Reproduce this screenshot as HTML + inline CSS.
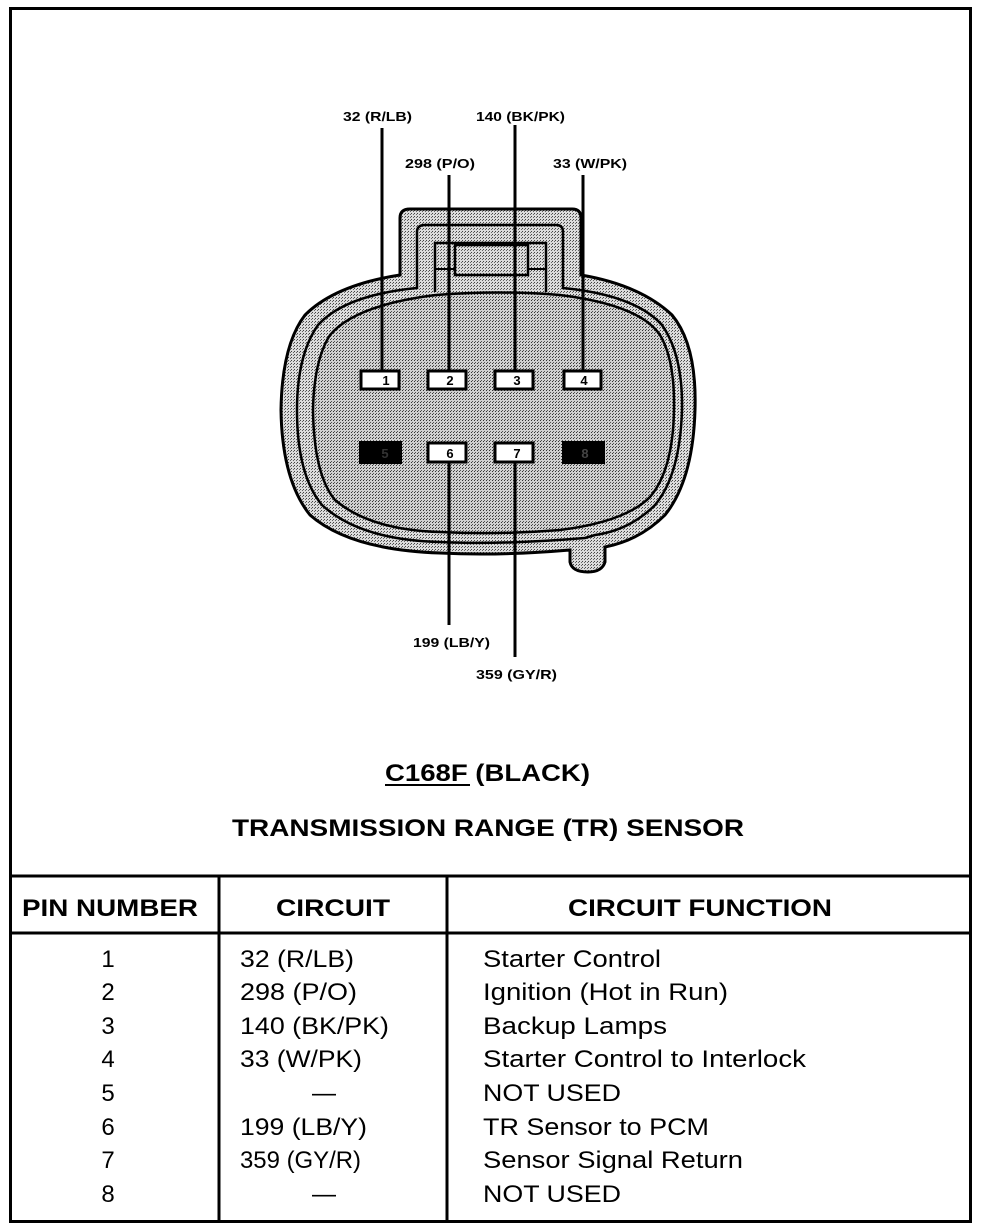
<!DOCTYPE html>
<html><head><style>
html,body{margin:0;padding:0;background:#fff;}
svg{display:block;}
text{font-family:"Liberation Sans",Arial,sans-serif;fill:#000;}
.lbl{font-size:13px;font-weight:bold;}
.h{font-size:24px;font-weight:bold;}
.t{font-size:24px;}
.pn{font-size:13px;font-weight:bold;}
</style></head><body>
<svg width="992" height="1230" viewBox="0 0 992 1230" xmlns="http://www.w3.org/2000/svg">
<defs>
<pattern id="dots" width="3" height="3" patternUnits="userSpaceOnUse">
<rect width="3" height="3" fill="#dcdcdc"/><rect width="1" height="1" fill="#444"/><rect x="2" y="1" width="1" height="1" fill="#666"/>
</pattern>
<pattern id="dots2" width="3" height="3" patternUnits="userSpaceOnUse">
<rect width="3" height="3" fill="#d0d0d0"/><rect width="1" height="1" fill="#333"/><rect x="1" y="2" width="1" height="1" fill="#555"/>
</pattern>
</defs>
<rect x="10.5" y="8.5" width="960" height="1213" fill="none" stroke="#000" stroke-width="3"/>

<path d="M400 218 Q400 209 410 209 L572 209 Q581 209 581 218 L581 275 Q640 285 672 315 Q697 345 695 410 Q693 480 665 515 Q640 540 605 547 L605 562 Q602 572 588 572 Q572 572 570 562 L570 550 Q500 556 440 553 Q350 550 310 515 Q282 480 281 410 Q282 345 305 315 Q335 285 400 275 Z" fill="url(#dots)" stroke="#000" stroke-width="3"/>
<path d="M417 232 Q417 225 425 225 L556 225 Q563 225 563 232 L563 288 Q635 295 662 325 Q683 355 682 410 Q680 475 655 505 Q630 530 595 535 L585 538 Q500 545 440 542 Q360 540 322 505 Q297 475 297 410 Q297 355 318 325 Q345 295 417 288 Z" fill="url(#dots)" stroke="#000" stroke-width="2.5"/>
<path d="M436 295 Q500 290 560 295 Q640 305 660 335 Q675 360 674 410 Q673 470 650 497 Q625 522 560 530 Q500 535 440 532 Q370 530 335 500 Q314 475 313 410 Q314 360 330 335 Q355 305 436 295 Z" fill="url(#dots2)" stroke="#000" stroke-width="2.5"/>
<path d="M435 292 L435 243 L546 243 L546 292" fill="none" stroke="#000" stroke-width="2.5"/>
<rect x="455" y="245" width="73" height="30" fill="none" stroke="#000" stroke-width="2.5"/>
<line x1="435" y1="269" x2="455" y2="269" stroke="#000" stroke-width="2"/>
<line x1="528" y1="269" x2="546" y2="269" stroke="#000" stroke-width="2"/>

<g stroke="#000" stroke-width="3">
<line x1="382" y1="128" x2="382" y2="371"/>
<line x1="449" y1="175" x2="449" y2="371"/>
<line x1="515" y1="125" x2="515" y2="371"/>
<line x1="583" y1="175" x2="583" y2="371"/>
<line x1="449" y1="462" x2="449" y2="625"/>
<line x1="515" y1="462" x2="515" y2="657"/>
</g>

<g stroke="#000" stroke-width="3" fill="#fff">
<rect x="361" y="371" width="38" height="18"/>
<rect x="428" y="371" width="38" height="18"/>
<rect x="495" y="371" width="38" height="18"/>
<rect x="564" y="371" width="37" height="18"/>
<rect x="428" y="443" width="38" height="19"/>
<rect x="495" y="443" width="38" height="19"/>
</g>
<rect x="359" y="441" width="43" height="23" fill="#000"/>
<rect x="562" y="441" width="43" height="23" fill="#000"/>
<g class="pn" text-anchor="middle">
<text x="386" y="385">1</text><text x="450" y="385">2</text><text x="517" y="385">3</text><text x="584" y="385">4</text>
<text x="450" y="458">6</text><text x="517" y="458">7</text>
<text x="385" y="458" style="fill:#333">5</text><text x="585" y="458" style="fill:#444">8</text>
</g>

<g class="lbl" lengthAdjust="spacingAndGlyphs">
<text x="343" y="121" textLength="69" lengthAdjust="spacingAndGlyphs">32 (R/LB)</text>
<text x="476" y="121" textLength="89" lengthAdjust="spacingAndGlyphs">140 (BK/PK)</text>
<text x="405" y="168" textLength="70" lengthAdjust="spacingAndGlyphs">298 (P/O)</text>
<text x="553" y="168" textLength="74" lengthAdjust="spacingAndGlyphs">33 (W/PK)</text>
<text x="413" y="647" textLength="77" lengthAdjust="spacingAndGlyphs">199 (LB/Y)</text>
<text x="476" y="679" textLength="81" lengthAdjust="spacingAndGlyphs">359 (GY/R)</text>
</g>

<text class="h" x="385" y="781" textLength="205" lengthAdjust="spacingAndGlyphs">C168F (BLACK)</text>
<line x1="385" y1="785" x2="470" y2="785" stroke="#000" stroke-width="2"/>
<text class="h" x="232" y="836" textLength="512" lengthAdjust="spacingAndGlyphs">TRANSMISSION RANGE (TR) SENSOR</text>

<g stroke="#000" stroke-width="3">
<line x1="10" y1="876" x2="971" y2="876"/>
<line x1="10" y1="933" x2="971" y2="933"/>
<line x1="219" y1="876" x2="219" y2="1222"/>
<line x1="447" y1="876" x2="447" y2="1222"/>
</g>
<text class="h" x="22" y="916" textLength="176" lengthAdjust="spacingAndGlyphs">PIN NUMBER</text>
<text class="h" x="276" y="916" textLength="114" lengthAdjust="spacingAndGlyphs">CIRCUIT</text>
<text class="h" x="568" y="916" textLength="264" lengthAdjust="spacingAndGlyphs">CIRCUIT FUNCTION</text>

<g class="t">
<g text-anchor="middle">
<text x="108" y="967">1</text><text x="108" y="1000">2</text><text x="108" y="1034">3</text><text x="108" y="1067">4</text>
<text x="108" y="1101">5</text><text x="108" y="1135">6</text><text x="108" y="1168">7</text><text x="108" y="1202">8</text>
</g>
<text x="240" y="967" textLength="114" lengthAdjust="spacingAndGlyphs">32 (R/LB)</text>
<text x="240" y="1000" textLength="117" lengthAdjust="spacingAndGlyphs">298 (P/O)</text>
<text x="240" y="1034" textLength="149" lengthAdjust="spacingAndGlyphs">140 (BK/PK)</text>
<text x="240" y="1067" textLength="122" lengthAdjust="spacingAndGlyphs">33 (W/PK)</text>
<text x="312" y="1101">—</text>
<text x="240" y="1135" textLength="127" lengthAdjust="spacingAndGlyphs">199 (LB/Y)</text>
<text x="240" y="1168" textLength="121" lengthAdjust="spacingAndGlyphs">359 (GY/R)</text>
<text x="312" y="1202">—</text>
<text x="483" y="967" textLength="178" lengthAdjust="spacingAndGlyphs">Starter Control</text>
<text x="483" y="1000" textLength="245" lengthAdjust="spacingAndGlyphs">Ignition (Hot in Run)</text>
<text x="483" y="1034" textLength="184" lengthAdjust="spacingAndGlyphs">Backup Lamps</text>
<text x="483" y="1067" textLength="323" lengthAdjust="spacingAndGlyphs">Starter Control to Interlock</text>
<text x="483" y="1101" textLength="138" lengthAdjust="spacingAndGlyphs">NOT USED</text>
<text x="483" y="1135" textLength="226" lengthAdjust="spacingAndGlyphs">TR Sensor to PCM</text>
<text x="483" y="1168" textLength="260" lengthAdjust="spacingAndGlyphs">Sensor Signal Return</text>
<text x="483" y="1202" textLength="138" lengthAdjust="spacingAndGlyphs">NOT USED</text>
</g>
</svg>
</body></html>
